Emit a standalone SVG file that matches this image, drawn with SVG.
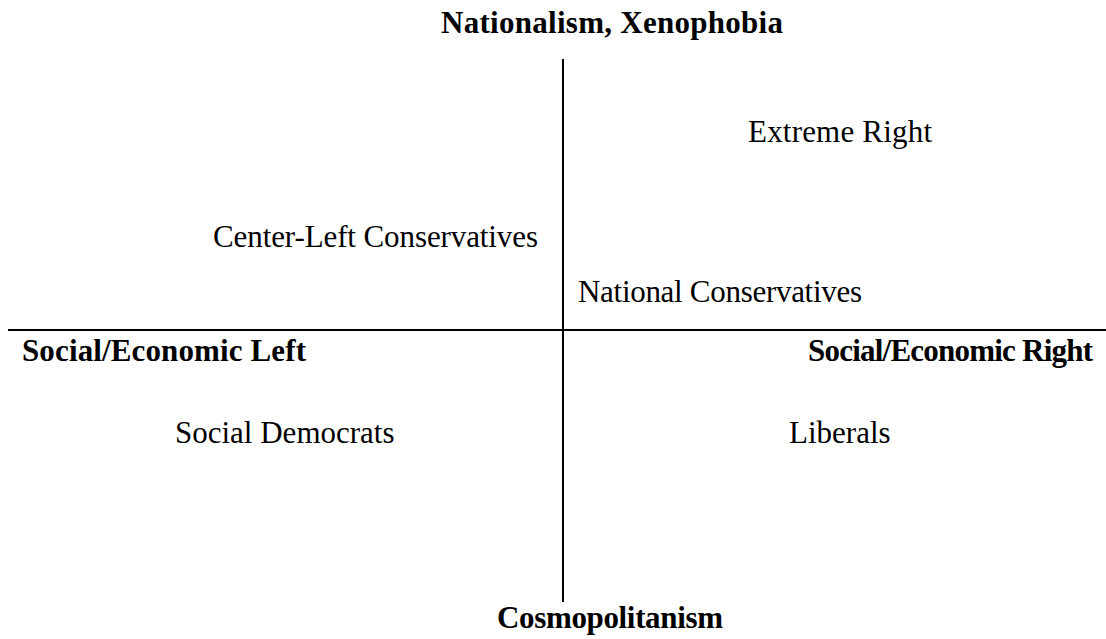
<svg xmlns="http://www.w3.org/2000/svg" width="1106" height="639" viewBox="0 0 1106 639">
<style>
.t{font-family:"Liberation Serif","Times New Roman",serif;font-size:31px;fill:#000}
.b{font-family:"Liberation Serif","Times New Roman",serif;font-size:31px;font-weight:bold;fill:#000}
.ax{stroke:#000;stroke-width:2;fill:none}
</style>
<rect width="1106" height="639" fill="#fff"/>
<g id="connectors">
<line class="ax" x1="563" y1="59" x2="563" y2="602"/>
<line class="ax" x1="8" y1="330" x2="1106" y2="330"/>
</g>
<g id="axis-top"><text class="b" x="441" y="33" textLength="342" lengthAdjust="spacing">Nationalism, Xenophobia</text></g>
<g id="axis-bottom"><text class="b" x="497" y="628" textLength="226" lengthAdjust="spacing">Cosmopolitanism</text></g>
<g id="axis-left"><text class="b" x="22" y="361" textLength="284" lengthAdjust="spacing">Social/Economic Left</text></g>
<g id="axis-right"><text class="b" x="808" y="361" textLength="285" lengthAdjust="spacing">Social/Economic Right</text></g>
<g id="extreme-right"><text class="t" x="748" y="142" textLength="184" lengthAdjust="spacing">Extreme Right</text></g>
<g id="center-left"><text class="t" x="213" y="247" textLength="325" lengthAdjust="spacing">Center-Left Conservatives</text></g>
<g id="national-conservatives"><text class="t" x="578" y="302" textLength="284" lengthAdjust="spacing">National Conservatives</text></g>
<g id="social-democrats"><text class="t" x="175" y="443">Social Democrats</text></g>
<g id="liberals"><text class="t" x="789" y="443">Liberals</text></g>
</svg>
